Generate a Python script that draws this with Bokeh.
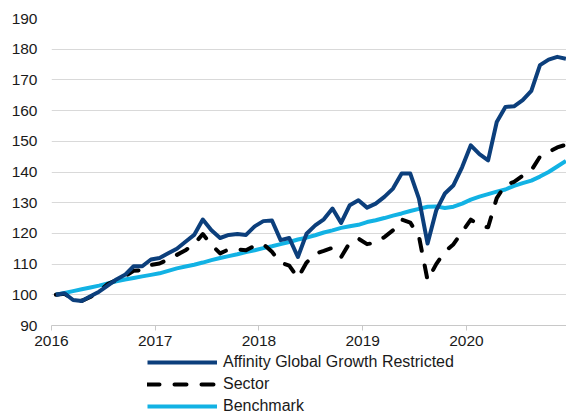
import pandas as pd
from bokeh.plotting import figure
from bokeh.layouts import column
from bokeh.models import Legend, LegendItem, FixedTicker, Range1d
from bokeh.embed import file_html
from bokeh.resources import INLINE

# ---- data (monthly index levels) ----
months = pd.date_range("2016-01-01", periods=60, freq="MS")
year_ticks = [2016, 2017, 2018, 2019, 2020]
year_labels = ["2016", "2017", "2018", "2019", "2020"]

affinity = [100.0, 100.5, 98.3, 98.0, 99.5, 101.0, 103.0, 105.0, 106.5, 109.3,
            109.3, 111.5, 112.0, 113.5, 115.0, 117.3, 119.5, 124.5, 121.0, 118.5,
            119.5, 119.8, 119.5, 122.3, 124.0, 124.2, 117.8, 118.5, 112.3, 119.9,
            122.6, 124.6, 128.1, 123.4, 129.2, 130.8, 128.4, 129.7, 131.9, 134.6,
            139.5, 139.5, 131.3, 116.7, 127.5, 133.0, 135.7, 141.6, 148.7, 145.8,
            143.8, 156.3, 161.2, 161.4, 163.4, 166.4, 174.8, 176.6, 177.5, 176.9]

sector = [100.0, 100.3, 98.5, 98.0, 99.3, 101.0, 103.5, 104.8, 106.0, 107.8,
          108.0, 109.7, 110.2, 111.5, 113.0, 114.5, 116.5, 119.8, 116.3, 113.5,
          114.8, 114.8, 114.5, 116.0, 116.5, 114.0, 110.5, 109.5, 105.5, 110.5,
          113.4, 114.3, 115.3, 112.3, 117.0, 118.3, 116.5, 117.0, 118.8, 121.0,
          124.5, 123.5, 119.0, 104.7, 110.0, 114.0, 116.5, 120.5, 124.5, 122.5,
          122.0, 131.5, 135.8, 136.8, 138.8, 140.5, 145.0, 146.5, 148.0, 148.9]

benchmark = [100.0, 100.6, 101.2, 101.8, 102.4, 103.0, 103.7, 104.4, 105.0, 105.5,
             106.0, 106.5, 107.0, 107.8, 108.6, 109.2, 109.8, 110.5, 111.3, 112.0,
             112.6, 113.2, 113.9, 114.5, 115.2, 115.8, 116.5, 117.2, 118.0, 118.6,
             119.4, 120.3, 121.0, 121.8, 122.3, 122.8, 123.7, 124.3, 125.0, 125.8,
             126.5, 127.3, 128.0, 128.7, 128.8, 128.3, 128.7, 129.7, 131.0, 132.0,
             132.8, 133.6, 134.3, 135.5, 136.4, 137.2, 138.5, 140.0, 141.8, 143.6]

series_names = ["Affinity Global Growth Restricted", "Sector", "Benchmark"]
series_colors = ["#0c3f7c", "#000000", "#12b2e4"]
series_dashes = ["solid", "12 15", "solid"]

# x position of each monthly point (mid-month, fractional year)
x = [m.year + (m.month - 0.5) / 12 for m in months]

FONT = "Liberation Sans"
TEXT = "#1a1a1a"

# ---------------- main chart ----------------
p = figure(width=566, height=353, output_backend="svg", toolbar_location=None,
           x_range=Range1d(2016, 2020.964), y_range=Range1d(90, 190),
           min_border_left=51, min_border_right=0, min_border_top=18,
           min_border_bottom=28)
p.outline_line_color = None
p.background_fill_color = "white"
p.border_fill_color = "white"

renderers = []
for vals, col, dash in zip([affinity, sector, benchmark], series_colors, series_dashes):
    r = p.line(x, vals, line_color=col, line_width=4, line_dash=dash,
               line_cap="round" if dash != "solid" else "butt", line_join="round")
    renderers.append(r)
p.renderers = [renderers[2], renderers[1], renderers[0]]

# x axis
p.xaxis.ticker = FixedTicker(ticks=year_ticks)
p.xaxis.major_label_overrides = {t: l for t, l in zip(year_ticks, year_labels)}
p.xaxis.axis_line_color = "#c8c8c8"
p.xaxis.major_tick_line_color = "#c8c8c8"
p.xaxis.major_tick_in = 0
p.xaxis.major_tick_out = 5
p.xaxis.minor_tick_line_color = None
p.xaxis.major_label_text_font = FONT
p.xaxis.major_label_text_font_size = "15.5px"
p.xaxis.major_label_text_color = TEXT
p.xaxis.major_label_standoff = 5

# y axis
p.yaxis.ticker = FixedTicker(ticks=list(range(90, 191, 10)))
p.yaxis.axis_line_color = None
p.yaxis.major_tick_line_color = None
p.yaxis.minor_tick_line_color = None
p.yaxis.major_tick_in = 0
p.yaxis.major_tick_out = 0
p.yaxis.major_label_text_font = FONT
p.yaxis.major_label_text_font_size = "15.5px"
p.yaxis.major_label_text_color = TEXT
p.yaxis.major_label_standoff = 14

p.xgrid.grid_line_color = None
p.ygrid.grid_line_color = "#d9d9d9"
p.ygrid.grid_line_width = 1

# ---------------- legend strip below ----------------
lg = figure(width=566, height=61, output_backend="svg", toolbar_location=None,
            x_range=Range1d(0, 1), y_range=Range1d(0, 1),
            min_border=0)
lg.outline_line_color = None
lg.grid.visible = False
lg.xaxis.visible = False
lg.yaxis.visible = False

items = []
for name, col, dash in zip(series_names, series_colors, series_dashes):
    # proxy renderers placed outside the visible range: only their legend glyph shows
    r = lg.line([-5, -4], [-5, -5], line_color=col, line_width=4, line_dash=dash,
                line_cap="round" if dash != "solid" else "butt")
    items.append(LegendItem(label=name, renderers=[r]))

legend = Legend(items=items, location=(96, -1), orientation="vertical",
                glyph_width=70, glyph_height=18, label_height=18,
                label_standoff=6, spacing=4, padding=0, margin=0,
                border_line_color=None, background_fill_alpha=0,
                label_text_font=FONT, label_text_font_size="16px",
                label_text_color=TEXT)
lg.add_layout(legend, "center")

layout = column(p, lg, spacing=0)
open("out.html", "w").write(file_html(layout, INLINE))
